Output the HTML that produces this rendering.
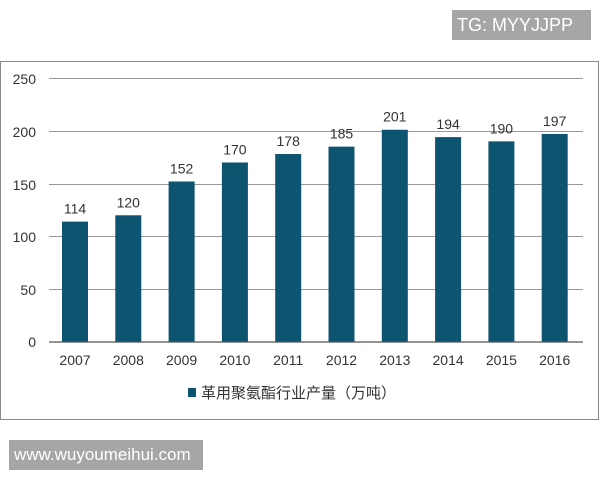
<!DOCTYPE html>
<html><head><meta charset="utf-8"><style>
body{margin:0;width:600px;height:480px;background:#fff;position:relative;overflow:hidden;font-family:"Liberation Sans","Noto Sans CJK SC",sans-serif}
.box{position:absolute;background:#a6a6a6;color:#fff;font-size:18px;line-height:30px}
</style></head><body>
<div class="box" style="left:452px;top:10px;width:139px;height:30px;padding-left:5px;box-sizing:border-box">TG: MYYJJPP</div>
<svg width="600" height="480" style="position:absolute;left:0;top:0" font-family="Liberation Sans, Noto Sans CJK SC, sans-serif">
<rect x="0.5" y="61.5" width="598" height="358" fill="none" stroke="#888" stroke-width="1"/>
<g stroke="#999" stroke-width="1">
<line x1="49" x2="583" y1="78.5" y2="78.5"/>
<line x1="49" x2="583" y1="131.5" y2="131.5"/>
<line x1="49" x2="583" y1="184.5" y2="184.5"/>
<line x1="49" x2="583" y1="236.5" y2="236.5"/>
<line x1="49" x2="583" y1="289.5" y2="289.5"/>
</g>
<g font-size="14" fill="#333" text-anchor="end">
<text x="36" y="84">250</text><text x="36" y="137">200</text><text x="36" y="190">150</text><text x="36" y="242">100</text><text x="36" y="295">50</text><text x="36" y="347">0</text>
</g>
<g fill="#0d5470" id="bars"></g>
<line x1="49" x2="583" y1="342" y2="342" stroke="#555" stroke-width="1.2"/>
<g font-size="14" fill="#333" text-anchor="middle" id="lab"></g>
<rect x="188" y="388" width="8" height="9" fill="#0d5470"/>
<text x="201" y="398" font-size="15" fill="#333">革用聚氨酯行业产量（万吨）</text>
</svg>
<div class="box" style="left:9px;top:440px;width:194px;height:30px;padding-left:5px;box-sizing:border-box;font-size:17px">www.wuyoumeihui.com</div>
<script>
var v=[114,120,152,170,178,185,201,194,190,197],y0=342,k=1.056,s="",t="";
for(var i=0;i<10;i++){var cx=75+i*53.3,h=v[i]*k;
s+='<rect x="'+(cx-13)+'" y="'+(y0-h)+'" width="26" height="'+h+'"/>';
t+='<text x="'+cx+'" y="'+(y0-h-8)+'">'+v[i]+'</text><text x="'+cx+'" y="365">'+(2007+i)+'</text>';}
document.getElementById('bars').innerHTML=s;document.getElementById('lab').innerHTML=t;
</script>
</body></html>
